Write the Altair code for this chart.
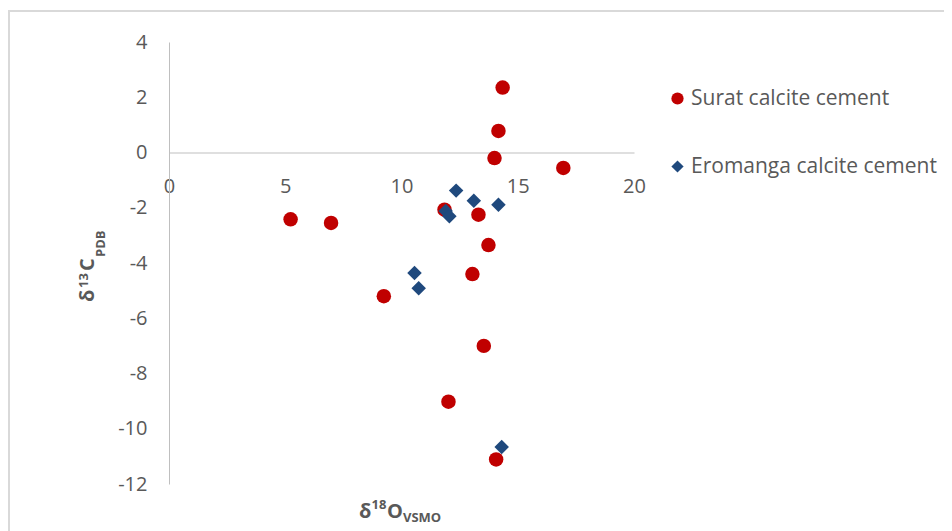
import altair as alt
import pandas as pd

series_names = ["Surat calcite cement", "Eromanga calcite cement"]
series_colors = ["#c00000", "#1f497d"]
series_shapes = ["circle", "diamond"]

surat_x = [5.23, 6.97, 9.24, 11.85, 12.02, 13.05, 13.31, 13.54, 13.74, 14.0, 14.07, 14.17, 14.35, 16.96]
surat_y = [-2.42, -2.55, -5.2, -2.07, -9.02, -4.4, -2.25, -7.0, -3.35, -0.2, -11.11, 0.78, 2.35, -0.56]

eromanga_x = [10.56, 10.74, 11.9, 12.06, 12.35, 13.11, 14.17, 14.31]
eromanga_y = [-4.36, -4.91, -2.12, -2.31, -1.38, -1.75, -1.89, -10.66]

x_ticks = [0, 5, 10, 15, 20]
y_ticks = [-12, -10, -8, -6, -4, -2, 0, 2, 4]

df = pd.DataFrame({
    "d18O": surat_x + eromanga_x,
    "d13C": surat_y + eromanga_y,
    "series": [series_names[0]] * len(surat_x) + [series_names[1]] * len(eromanga_x),
    "ord": list(range(len(surat_x) + len(eromanga_x))),
})

W, H = 465, 442
FONT = "Open Sans"
GREY = "#595959"
AXIS = "#bfbfbf"
LABEL_EXPR = "datum.value < 0 ? '-' + (-datum.value) : '' + datum.value"

leg = alt.Legend(
    orient="none", legendX=498, legendY=46, title=None, padding=0,
    labelFont=FONT, labelFontSize=21, labelColor=GREY, symbolSize=150,
    rowPadding=46, labelOffset=3, symbolStrokeWidth=0, labelLimit=0,
)

points = alt.Chart(df).mark_point(filled=True, opacity=1, size=210, strokeWidth=0).encode(
    x=alt.X("d18O:Q", title=None,
            scale=alt.Scale(domain=[0, 20], nice=False, zero=False),
            axis=alt.Axis(values=x_ticks, offset=-331.5, labelPadding=24,
                          labelExpr=LABEL_EXPR, labelFlush=False)),
    y=alt.Y("d13C:Q", title=None,
            scale=alt.Scale(domain=[-12, 4], nice=False, zero=False),
            axis=alt.Axis(values=y_ticks, labelPadding=22,
                          labelExpr=LABEL_EXPR, labelFlush=False)),
    color=alt.Color("series:N", scale=alt.Scale(domain=series_names, range=series_colors), legend=leg),
    shape=alt.Shape("series:N", scale=alt.Scale(domain=series_names, range=series_shapes), legend=leg),
    order=alt.Order("ord:Q"),
)

one = pd.DataFrame({"k": [0]})


def piece(txt, x, y, size, angle=0):
    return alt.Chart(one).mark_text(
        text=txt, font=FONT, fontSize=size, fontWeight="bold", color=GREY,
        align="left", baseline="alphabetic", angle=angle,
    ).encode(x=alt.value(x), y=alt.value(y))


x_title = [
    piece("δ", 190, 476, 20),
    piece("18", 202.5, 467, 13),
    piece("O", 218, 476, 20),
    piece("VSMO", 234, 480, 13),
]
y_title = [
    piece("δ", -75, 260, 20, 270),
    piece("13", -81, 246, 13, 270),
    piece("C", -75, 229, 20, 270),
    piece("PDB", -64, 215, 13, 270),
]

border_top = alt.Chart(one).mark_rule(color="#d9d9d9", strokeWidth=2).encode(
    x=alt.value(-161), x2=alt.value(800), y=alt.value(-31))
border_left = alt.Chart(one).mark_rule(color="#d9d9d9", strokeWidth=2).encode(
    x=alt.value(-160), y=alt.value(-31), y2=alt.value(500))

chart = alt.layer(border_top, border_left, points, *x_title, *y_title).properties(
    width=W, height=H,
    autosize=alt.AutoSizeParams(type="none"),
    padding={"left": 161, "top": 34, "right": 310, "bottom": 47},
).configure_view(stroke=None).configure_axis(
    domainColor=AXIS, domainWidth=1, ticks=False, tickSize=0, grid=False,
    labelFont=FONT, labelFontSize=20, labelColor=GREY,
)

chart.save("out.html", embed_options={"renderer": "svg", "actions": False})
